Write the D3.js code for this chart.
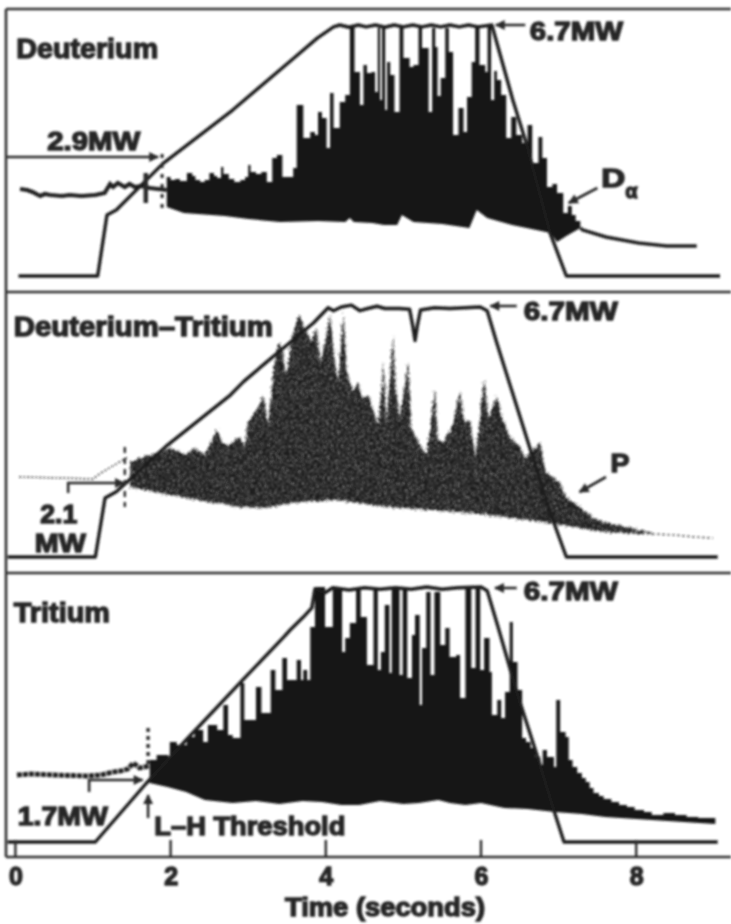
<!DOCTYPE html>
<html>
<head>
<meta charset="utf-8">
<script src="https://cdn.jsdelivr.net/npm/d3@7"></script>
<style>
    html, body { margin: 0; padding: 0; background: #fff; }
    text { font-family: "Liberation Sans", Arial, sans-serif; font-weight: bold; fill: #262626; stroke: #262626; stroke-width: 1.4px; }
    .frame { stroke: #333; stroke-width: 2.6px; fill: none; }
    .power { stroke: #1c1c1c; stroke-width: 3.4px; fill: none; stroke-linejoin: round; }
    .pre { stroke: #222; stroke-width: 3.5px; fill: none; }
    .note_line { stroke: #2b2b2b; stroke-width: 2.6px; fill: none; }
    .tick_up { stroke: #2b2b2b; stroke-width: 2.4px; }
</style>
</head>
<body>
<div id="chart"></div>
<script>
const time_ticks = [0, 2, 4, 6, 8];

// heating power in MW
const d_power_t = [0.04, 1.06, 1.18, 1.3, 1.9, 2.8, 3.59, 3.89, 4.1, 4.18, 4.3, 4.42, 4.52, 4.64, 4.76, 4.88, 5.0, 5.12, 5.24, 5.36, 5.48, 5.6, 5.72, 5.84, 5.96, 6.14, 6.41, 6.59, 6.89, 7.1, 9.08];
const d_power = [0, 0, 1.63, 1.76, 3.0, 4.43, 5.82, 6.35, 6.65, 6.7, 6.64, 6.7, 6.65, 6.7, 6.64, 6.7, 6.65, 6.7, 6.65, 6.7, 6.65, 6.7, 6.65, 6.7, 6.65, 6.7, 4.7, 3.5, 1.15, 0, 0];
const dt_power_t = [-0.1, 1.03, 1.155, 1.3, 1.96, 2.77, 2.94, 3.24, 3.5, 3.84, 4.03, 4.1, 4.2, 4.33, 4.44, 4.54, 4.66, 4.76, 4.95, 5.08, 5.12, 5.15, 5.18, 5.22, 5.4, 5.6, 5.99, 6.08, 6.2, 6.89, 7.1, 9.05];
const dt_power = [0, 0, 1.58, 1.75, 3.0, 4.34, 4.7, 5.23, 5.68, 6.27, 6.68, 6.6, 6.7, 6.75, 6.6, 6.66, 6.72, 6.66, 6.66, 6.64, 6.2, 5.8, 6.2, 6.62, 6.68, 6.66, 6.7, 6.6, 5.76, 1.2, 0, 0];
const t_power_t = [-0.1, 1.03, 1.69, 2.2, 2.93, 3.46, 3.54, 3.71, 3.82, 3.86, 3.99, 4.09, 4.3, 4.5, 4.7, 4.9, 5.1, 5.3, 5.5, 5.7, 6.0, 6.08, 6.22, 6.35, 6.46, 6.72, 6.95, 7.07, 9.05];
const t_power = [0, 0, 1.55, 2.68, 4.26, 5.39, 5.57, 5.91, 6.15, 6.65, 6.55, 6.68, 6.62, 6.68, 6.64, 6.68, 6.64, 6.7, 6.64, 6.68, 6.7, 6.6, 5.65, 4.73, 3.94, 2.29, 0.76, 0, 0];

// upper edge of the signal (a.u.)
const d_top_t = [1.95, 2.0, 2.06, 2.12, 2.21, 2.28, 2.32, 2.38, 2.44, 2.5, 2.56, 2.6, 2.65, 2.68, 2.75, 2.82, 2.9, 2.96, 3.0, 3.03, 3.1, 3.17, 3.24, 3.31, 3.37, 3.44, 3.52, 3.58, 3.625, 3.71, 3.8, 3.86, 3.9, 3.95, 4.01, 4.055, 4.1, 4.18, 4.25, 4.31, 4.37, 4.44, 4.485, 4.53, 4.59, 4.635, 4.67, 4.7, 4.725, 4.765, 4.79, 4.83, 4.885, 4.95, 5.0, 5.035, 5.08, 5.13, 5.195, 5.24, 5.27, 5.325, 5.37, 5.41, 5.44, 5.48, 5.54, 5.585, 5.64, 5.71, 5.775, 5.82, 5.88, 5.925, 5.98, 6.02, 6.055, 6.085, 6.13, 6.17, 6.205, 6.26, 6.325, 6.39, 6.455, 6.53, 6.6, 6.66, 6.74, 6.79, 6.85, 6.92, 6.98, 7.06, 7.12, 7.17, 7.22, 7.28];
const d_top = [99, 96, 97, 95, 103, 100, 96, 94, 96, 103, 100, 98, 109, 102, 97, 94, 96, 99, 111, 104, 102, 104, 94, 118, 121, 99, 99, 108, 171, 138, 144, 141, 164, 158, 128, 183, 148, 174, 181, 251, 204, 171, 211, 203, 204, 184, 248, 176, 248, 166, 214, 201, 164, 251, 218, 218, 209, 211, 249, 228, 228, 164, 248, 229, 180, 198, 248, 224, 141, 168, 144, 179, 214, 251, 211, 211, 204, 251, 176, 205, 196, 181, 138, 159, 141, 133, 151, 113, 139, 118, 89, 92, 83, 63, 70, 61, 55, 51];
const dt_top_t = [1.48, 1.65, 1.84, 2.0, 2.2, 2.3, 2.44, 2.6, 2.67, 2.75, 2.9, 2.96, 3.0, 3.13, 3.195, 3.26, 3.325, 3.39, 3.45, 3.475, 3.5, 3.56, 3.65, 3.73, 3.82, 3.875, 3.935, 3.99, 4.055, 4.12, 4.16, 4.23, 4.27, 4.355, 4.42, 4.465, 4.55, 4.615, 4.68, 4.745, 4.78, 4.87, 4.9, 4.96, 5.065, 5.1, 5.195, 5.3, 5.41, 5.44, 5.52, 5.56, 5.625, 5.73, 5.785, 5.86, 5.925, 5.97, 6.04, 6.1, 6.205, 6.27, 6.375, 6.485, 6.57, 6.765, 6.83, 7.01, 7.1, 7.49, 8.03, 8.21];
const dt_top = [95, 100, 104, 109, 102, 109, 102, 127, 114, 112, 120, 110, 135, 149, 162, 132, 185, 215, 205, 184, 184, 219, 242, 229, 215, 230, 195, 214, 242, 192, 175, 245, 185, 165, 175, 159, 162, 145, 132, 195, 132, 222, 167, 139, 197, 129, 115, 102, 169, 119, 114, 122, 129, 165, 135, 137, 99, 125, 177, 139, 162, 139, 119, 112, 99, 114, 85, 75, 60, 37, 27, 24];
const t_top_t = [1.73, 1.82, 1.97, 1.99, 2.08, 2.21, 2.31, 2.42, 2.48, 2.6, 2.68, 2.74, 2.8, 2.9, 2.95, 3.1, 3.17, 3.29, 3.35, 3.44, 3.5, 3.54, 3.625, 3.68, 3.71, 3.76, 3.8, 3.86, 3.99, 4.09, 4.21, 4.25, 4.31, 4.39, 4.45, 4.53, 4.615, 4.67, 4.71, 4.76, 4.82, 4.85, 4.95, 4.99, 5.05, 5.11, 5.15, 5.21, 5.24, 5.295, 5.35, 5.4, 5.475, 5.54, 5.595, 5.68, 5.73, 5.8, 5.875, 5.93, 5.99, 6.04, 6.11, 6.14, 6.21, 6.26, 6.31, 6.37, 6.41, 6.47, 6.53, 6.58, 6.64, 6.7, 6.765, 6.795, 6.85, 6.94, 6.97, 7.02, 7.09, 7.13, 7.18, 7.24, 7.3, 7.35, 7.4, 7.45, 7.52, 7.58, 7.68, 7.78, 7.88, 7.98, 8.1, 8.2, 8.35, 8.5, 8.65, 8.8, 9.02];
const t_top = [82, 87, 84, 100, 97, 105, 112, 100, 117, 112, 137, 107, 104, 159, 122, 155, 129, 172, 152, 184, 162, 162, 182, 162, 172, 162, 215, 255, 215, 254, 190, 204, 219, 254, 225, 177, 254, 172, 190, 237, 169, 254, 167, 254, 164, 207, 227, 137, 194, 250, 167, 250, 197, 214, 185, 187, 144, 254, 174, 254, 172, 204, 170, 127, 142, 124, 150, 220, 180, 152, 104, 100, 94, 85, 77, 92, 85, 75, 142, 110, 105, 82, 75, 69, 64, 60, 54, 49, 46, 43, 40, 37, 35, 32, 30, 27, 29, 27, 25, 24, 22];

// lower edge of the signal (a.u.)
const d_low_t = [1.95, 2.17, 2.7, 3.0, 3.41, 3.9, 4.25, 4.31, 4.36, 4.6, 4.75, 4.92, 4.98, 5.13, 5.5, 5.85, 5.945, 6.08, 6.4, 6.9, 6.98, 7.1, 7.28];
const d_low = [69, 63, 60, 57, 54, 55, 54, 58, 54, 53, 51, 51, 61, 54, 52, 48, 66, 58, 51, 43, 34, 40, 48];
const dt_low_t = [1.48, 2.2, 2.9, 3.2, 3.64, 4.13, 4.79, 5.57, 6.11, 6.89, 7.61, 8.03, 8.21];
const dt_low = [70, 59, 50, 49, 55, 57, 50, 46, 42, 34, 25, 23, 23];
const t_low_t = [1.73, 1.96, 2.2, 2.44, 2.8, 3.1, 3.4, 3.7, 3.95, 4.2, 4.43, 4.7, 5.0, 5.2, 5.45, 5.6, 5.8, 6.0, 6.3, 6.6, 6.95, 7.3, 7.6, 8.2, 9.02];
const t_low = [59, 55, 50, 42, 39, 41, 38, 41, 40, 37, 37, 41, 38, 39, 42, 39, 37, 39, 34, 33, 30, 28, 25, 22, 18];

// quiet signal before the transition (a.u.)
const d_pre_t = [0.06, 0.15, 0.22, 0.32, 0.38, 0.45, 0.6, 0.7, 0.85, 1.03, 1.15, 1.22, 1.26, 1.32, 1.41, 1.47, 1.54, 1.63, 1.73, 1.95];
const d_pre = [87, 86, 84, 80, 82, 81, 80, 81, 80, 81, 83, 92, 89, 93, 89, 92, 89, 90, 88, 86];
const dt_pre_t = [0.05, 0.6, 1.0, 1.1, 1.3, 1.45];
const dt_pre = [80, 79, 78, 84, 93, 100];
const t_pre_t = [0.02, 0.2, 0.5, 0.92, 1.1, 1.26, 1.36, 1.45, 1.52, 1.6, 1.73];
const t_pre = [67, 68, 67, 66, 67, 70, 71, 73, 79, 74, 76];

// decay after the signal edge (a.u.)
const d_tail_t = [7.28, 7.31, 7.61, 8.03, 8.39, 8.78];
const d_tail = [48, 46, 39, 33, 30, 30];
const dt_tail_t = [8.21, 8.5, 8.75, 8.99];
const dt_tail = [23, 22, 20, 19];

const width = 731, height = 924;
const x = d3.scaleLinear().domain([0, 8]).range([15.4, 636.2]);

const svg = d3.select("#chart").append("svg")
    .attr("width", width)
    .attr("height", height)
    .style("display", "block");

const defs = svg.append("defs");
// scanned look
defs.append("filter").attr("id", "scan")
    .attr("filterUnits", "userSpaceOnUse")
    .attr("x", 0).attr("y", 0).attr("width", width).attr("height", height)
    .append("feGaussianBlur").attr("stdDeviation", 0.85);

// grainy, frayed fill of the middle panel
const grain = defs.append("filter").attr("id", "grain");
grain.append("feTurbulence")
    .attr("type", "fractalNoise").attr("baseFrequency", 0.6).attr("numOctaves", 2).attr("seed", 4).attr("result", "noise");
grain.append("feDisplacementMap")
    .attr("in", "SourceGraphic").attr("in2", "noise").attr("scale", 7)
    .attr("xChannelSelector", "R").attr("yChannelSelector", "G").attr("result", "frayed");
grain.append("feColorMatrix")
    .attr("in", "noise").attr("type", "matrix")
    .attr("values", "0 0 0 0 0  0 0 0 0 0  0 0 0 0 0  2.5 0 0 0 -0.2").attr("result", "mask");
grain.append("feComposite").attr("in", "frayed").attr("in2", "mask").attr("operator", "in");

defs.append("marker").attr("id", "head")
    .attr("viewBox", "0 0 10 10").attr("refX", 9).attr("refY", 5)
    .attr("markerWidth", 12).attr("markerHeight", 10).attr("markerUnits", "userSpaceOnUse")
    .attr("orient", "auto")
    .append("path").attr("d", "M0,0L10,5L0,10Z").attr("fill", "#2b2b2b");

const root = svg.append("g").attr("filter", "url(#scan)");

function zip(ts, vs) {
    return ts.map(function (t, i) {
        return [t, vs[i]];
    });
}

function draw_panel(param) {
    const g = root.append("g");
    const y_power = d3.scaleLinear().domain([0, 6.7]).range([param.base, param.top]);
    const y_signal = d3.scaleLinear().domain([0, param.base - param.top]).range([param.base, param.top]);

    const line = d3.line()
        .x(function (d) { return x(d[0]); })
        .y(function (d) { return y_signal(d[1]); });

    if (param.pre) {
        g.append("path")
            .attr("class", "pre")
            .attr("d", line(param.pre))
            .attr("stroke-dasharray", param.pre_dash)
            .style("stroke-width", param.pre_width);
    }

    // upper edge has its own curve, lower edge comes back straight
    const upper = line.curve(param.top_curve)(param.signal_top);
    const lower = line.curve(d3.curveLinear)(param.signal_low.slice().reverse());
    g.append("path")
        .attr("d", upper + "L" + lower.slice(1) + "Z")
        .attr("fill", param.fill)
        .attr("filter", param.grain ? "url(#grain)" : null);

    if (param.tail) {
        g.append("path")
            .attr("class", "pre")
            .attr("d", line(param.tail))
            .attr("stroke-dasharray", param.tail_dash)
            .style("stroke-width", param.tail_width);
    }

    g.append("path")
        .datum(param.power)
        .attr("class", "power")
        .attr("d", d3.line()
            .x(function (d) { return x(d[0]); })
            .y(function (d) { return y_power(d[1]); }));

    return {g: g, y: y_signal};
}

const deut = draw_panel({
    top: 25, base: 276, fill: "#161616", top_curve: d3.curveStepAfter,
    power: zip(d_power_t, d_power),
    signal_top: zip(d_top_t, d_top),
    signal_low: zip(d_low_t, d_low),
    pre: zip(d_pre_t, d_pre), pre_dash: null, pre_width: "4.2px",
    tail: zip(d_tail_t, d_tail), tail_dash: null, tail_width: "3.4px"
});
const dt = draw_panel({
    top: 307, base: 557, fill: "#1d1d1d", grain: true, top_curve: d3.curveLinear,
    power: zip(dt_power_t, dt_power),
    signal_top: zip(dt_top_t, dt_top),
    signal_low: zip(dt_low_t, dt_low),
    pre: zip(dt_pre_t, dt_pre), pre_dash: "2 2", pre_width: "1.4px",
    tail: zip(dt_tail_t, dt_tail), tail_dash: "2 3", tail_width: "1.4px"
});
const trit = draw_panel({
    top: 587, base: 842, fill: "#161616", top_curve: d3.curveStepAfter,
    power: zip(t_power_t, t_power),
    signal_top: zip(t_top_t, t_top),
    signal_low: zip(t_low_t, t_low),
    pre: zip(t_pre_t, t_pre), pre_dash: "5 1", pre_width: "4.8px"
});

// panel frames
[9, 292, 573, 857].forEach(function (y0) {
    root.append("line").attr("class", "frame")
        .attr("x1", 6).attr("x2", width).attr("y1", y0).attr("y2", y0);
});
root.append("line").attr("class", "frame")
    .attr("x1", 6).attr("x2", 6).attr("y1", 9).attr("y2", 857);

// time axis, ticks point into the panel
const axis = root.append("g")
    .attr("transform", "translate(0, 857)")
    .call(d3.axisBottom(x)
        .tickValues(time_ticks)
        .tickSize(0)
        .tickPadding(3)
        .tickFormat(d3.format("d")));
axis.select(".domain").remove();
axis.selectAll("text").attr("dy", "1em").style("font-size", "25px");

root.selectAll(".tick_up")
    .data(time_ticks)
    .enter()
    .append("path")
    .attr("class", "tick_up")
    .attr("d", function (d) {
        return "M" + x(d) + ",840V858";
    });

root.append("text")
    .attr("x", 385).attr("y", 916)
    .attr("text-anchor", "middle")
    .attr("textLength", 200).attr("lengthAdjust", "spacingAndGlyphs")
    .style("font-size", "26px")
    .text("Time (seconds)");

function label(panel, str, t, v, w, size) {
    return panel.g.append("text")
        .attr("x", x(t)).attr("y", panel.y(v))
        .attr("textLength", w).attr("lengthAdjust", "spacingAndGlyphs")
        .style("font-size", (size || 26) + "px")
        .text(str);
}

function arrow(panel, pts) {
    panel.g.append("path")
        .attr("class", "note_line")
        .attr("marker-end", "url(#head)")
        .attr("d", d3.line()
            .x(function (d) { return x(d[0]); })
            .y(function (d) { return panel.y(d[1]); })(pts));
}

function dash(panel, t, v0, v1, pattern, w) {
    panel.g.append("line")
        .attr("class", "note_line")
        .attr("x1", x(t)).attr("x2", x(t))
        .attr("y1", panel.y(v0)).attr("y2", panel.y(v1))
        .attr("stroke-dasharray", pattern)
        .style("stroke-width", w);
}

// deuterium notes
label(deut, "Deuterium", 0.01, 218, 142, 28);
label(deut, "6.7MW", 6.63, 236, 93);
arrow(deut, [[6.57, 251], [6.19, 251]]);
label(deut, "2.9MW", 0.41, 126, 93);
arrow(deut, [[-0.11, 119], [1.84, 119]]);
dash(deut, 1.89, 122, 63, "4 6", "3px");
dash(deut, 1.68, 103, 73, null, "4.5px");
label(deut, "D", 7.55, 89, 24);
deut.g.append("text")
    .attr("x", x(7.86)).attr("y", deut.y(78))
    .style("font-size", "20px")
    .text("α");
arrow(deut, [[7.5, 88], [7.13, 73]]);

// deuterium-tritium notes
label(dt, "Deuterium–Tritium", -0.02, 221, 259, 27);
label(dt, "6.7MW", 6.55, 237, 94);
arrow(dt, [[6.46, 251], [6.12, 251]]);
label(dt, "2.1", 0.32, 34, 37);
label(dt, "MW", 0.25, 5, 51);
arrow(dt, [[0.68, 64], [0.68, 74], [1.4, 74]]);
label(dt, "P", 7.67, 85, 19);
arrow(dt, [[7.61, 80], [7.27, 65]]);
dash(dt, 1.41, 110, 50, "6 5", "2.4px");

// tritium notes
label(trit, "Tritium", -0.02, 220, 96, 27);
label(trit, "6.7MW", 6.55, 242, 94);
arrow(trit, [[6.46, 254], [6.18, 254]]);
label(trit, "1.7MW", 0.03, 17, 90);
label(trit, "L–H Threshold", 1.79, 7, 191);
arrow(trit, [[0.95, 50], [0.95, 62], [1.64, 62]]);
arrow(trit, [[1.71, 24], [1.71, 47]]);
dash(trit, 1.71, 114, 77, "4 4", "3.4px");
</script>
</body>
</html>
